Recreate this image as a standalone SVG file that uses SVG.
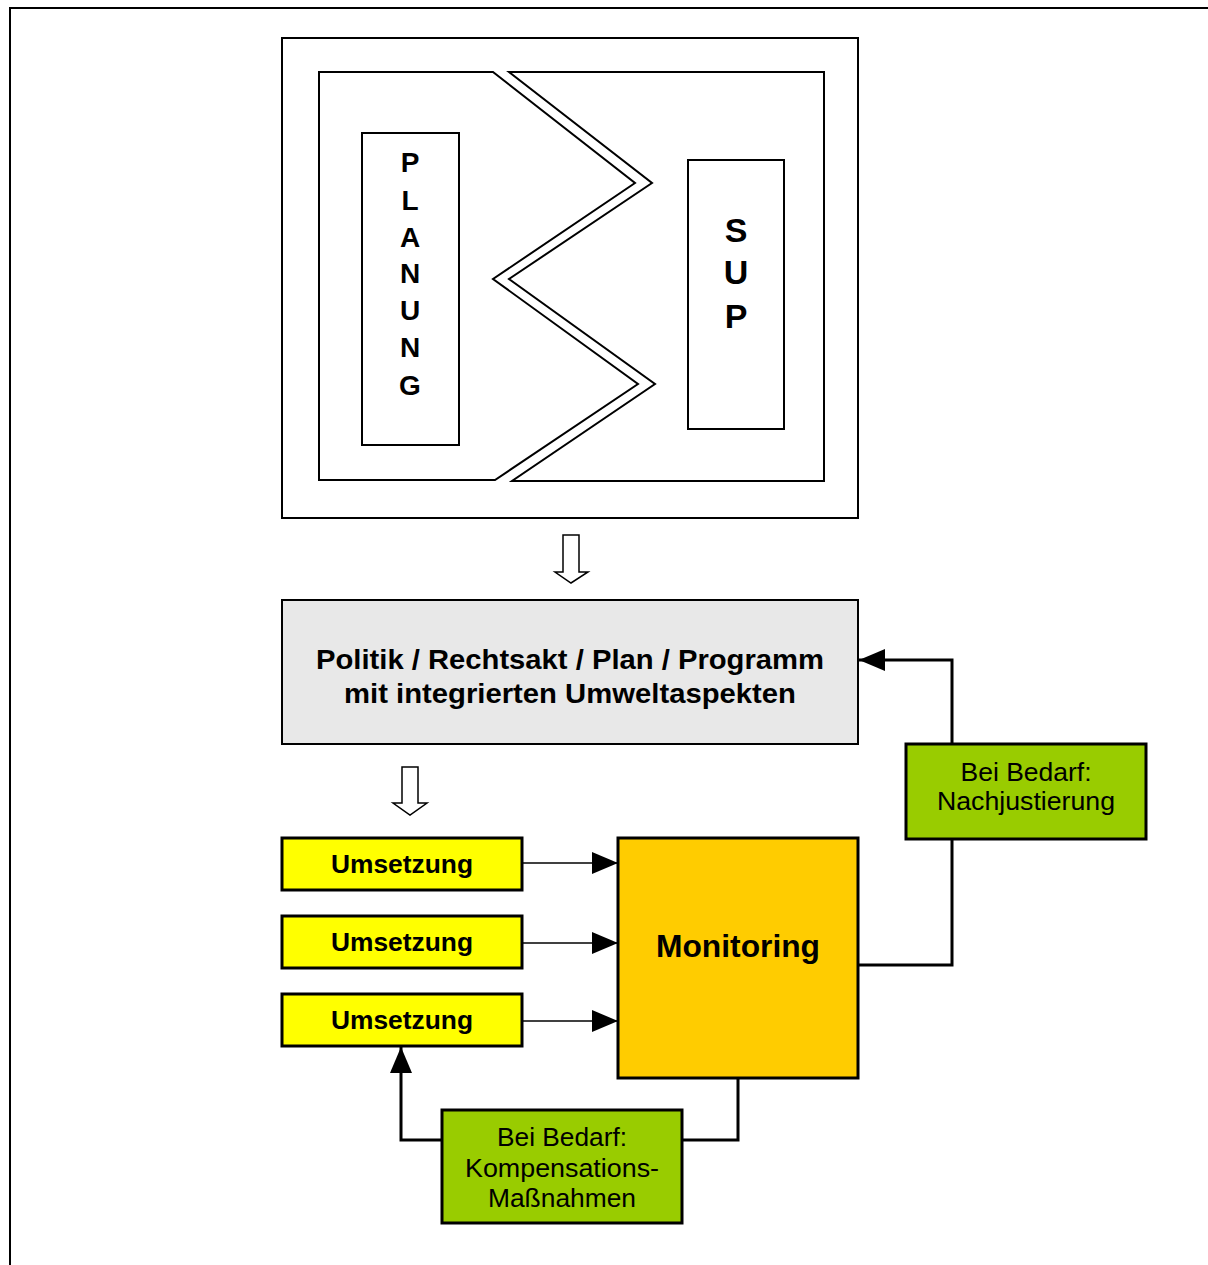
<svg xmlns="http://www.w3.org/2000/svg" width="1208" height="1265" viewBox="0 0 1208 1265">
<defs>
<style>
.b{font-family:"Liberation Sans",Arial,sans-serif;font-weight:bold;fill:#000;text-anchor:middle}
.n{font-family:"Liberation Sans",Arial,sans-serif;fill:#000;text-anchor:middle}
.thin{fill:none;stroke:#000;stroke-width:2}
.thick{fill:none;stroke:#000;stroke-width:3}
</style>
<marker id="ahL" markerWidth="26" markerHeight="22" refX="26" refY="11" orient="auto" markerUnits="userSpaceOnUse" viewBox="0 0 26 22">
<path d="M0,0 L26,11 L0,22 Z" fill="#000"/>
</marker>
</defs>
<rect x="0" y="0" width="1208" height="1265" fill="#fff"/>
<path d="M10,1265 V8 H1208" fill="none" stroke="#000" stroke-width="2"/>

<g id="top-frame">
<rect x="282" y="38" width="576" height="480" class="thin"/>
</g>
<g id="planung-shape">
<polygon points="319,72 493,72 635,183 493,279 638,384 495,480 319,480" class="thin"/>
</g>
<g id="sup-shape">
<polygon points="509,72 824,72 824,481 512,481 655,384 509,279 652,183" class="thin"/>
</g>
<g id="planung">
<rect x="362" y="133" width="97" height="312" class="thin"/>
<text class="b" font-size="28" x="410" y="172">P</text>
<text class="b" font-size="28" x="410" y="210">L</text>
<text class="b" font-size="28" x="410" y="247">A</text>
<text class="b" font-size="28" x="410" y="283">N</text>
<text class="b" font-size="28" x="410" y="320">U</text>
<text class="b" font-size="28" x="410" y="357">N</text>
<text class="b" font-size="28" x="410" y="395">G</text>
</g>
<g id="sup">
<rect x="688" y="160" width="96" height="269" class="thin"/>
<text class="b" font-size="34" x="736" y="242">S</text>
<text class="b" font-size="34" x="736" y="284">U</text>
<text class="b" font-size="34" x="736" y="328">P</text>
</g>

<g id="connectors">
<polygon points="563,535 579,535 579,572 588,572 571,583 555,572 563,572" fill="#fff" stroke="#000" stroke-width="1.5"/>
<polygon points="402,767 418,767 418,803 427,803 410,815 393,803 402,803" fill="#fff" stroke="#000" stroke-width="1.5"/>
<line x1="522" y1="863" x2="618" y2="863" stroke="#000" stroke-width="1.5" marker-end="url(#ahL)"/>
<line x1="522" y1="943" x2="618" y2="943" stroke="#000" stroke-width="1.5" marker-end="url(#ahL)"/>
<line x1="522" y1="1021" x2="618" y2="1021" stroke="#000" stroke-width="1.5" marker-end="url(#ahL)"/>
<polyline points="858,965 952,965 952,660 859,660" class="thick" marker-end="url(#ahL)"/>
<polyline points="738,1078 738,1140 401,1140 401,1047" class="thick" marker-end="url(#ahL)"/>
</g>

<g id="politik">
<rect x="282" y="600" width="576" height="144" fill="#e8e8e8" stroke="#000" stroke-width="2"/>
<text class="b" font-size="28" x="570" y="669" textLength="508" lengthAdjust="spacingAndGlyphs">Politik / Rechtsakt / Plan / Programm</text>
<text class="b" font-size="28" x="570" y="703" textLength="452" lengthAdjust="spacingAndGlyphs">mit integrierten Umweltaspekten</text>
</g>

<g id="umsetzung1">
<rect x="282" y="838" width="240" height="52" fill="#ffff00" stroke="#000" stroke-width="3"/>
<text class="b" font-size="25" x="402" y="873" textLength="142" lengthAdjust="spacingAndGlyphs">Umsetzung</text>
</g>
<g id="umsetzung2">
<rect x="282" y="916" width="240" height="52" fill="#ffff00" stroke="#000" stroke-width="3"/>
<text class="b" font-size="25" x="402" y="951" textLength="142" lengthAdjust="spacingAndGlyphs">Umsetzung</text>
</g>
<g id="umsetzung3">
<rect x="282" y="994" width="240" height="52" fill="#ffff00" stroke="#000" stroke-width="3"/>
<text class="b" font-size="25" x="402" y="1029" textLength="142" lengthAdjust="spacingAndGlyphs">Umsetzung</text>
</g>

<g id="monitoring">
<rect x="618" y="838" width="240" height="240" fill="#ffcc00" stroke="#000" stroke-width="3"/>
<text class="b" font-size="31" x="738" y="957" textLength="164" lengthAdjust="spacingAndGlyphs">Monitoring</text>
</g>

<g id="nachjustierung">
<rect x="906" y="744" width="240" height="95" fill="#99cc00" stroke="#000" stroke-width="3"/>
<text class="n" font-size="25" x="1026" y="781" textLength="131" lengthAdjust="spacingAndGlyphs">Bei Bedarf:</text>
<text class="n" font-size="25" x="1026" y="810" textLength="178" lengthAdjust="spacingAndGlyphs">Nachjustierung</text>
</g>

<g id="kompensation">
<rect x="442" y="1110" width="240" height="113" fill="#99cc00" stroke="#000" stroke-width="3"/>
<text class="n" font-size="25" x="562" y="1146" textLength="130" lengthAdjust="spacingAndGlyphs">Bei Bedarf:</text>
<text class="n" font-size="25" x="562" y="1177" textLength="194" lengthAdjust="spacingAndGlyphs">Kompensations-</text>
<text class="n" font-size="25" x="562" y="1207" textLength="148" lengthAdjust="spacingAndGlyphs">Maßnahmen</text>
</g>
</svg>
